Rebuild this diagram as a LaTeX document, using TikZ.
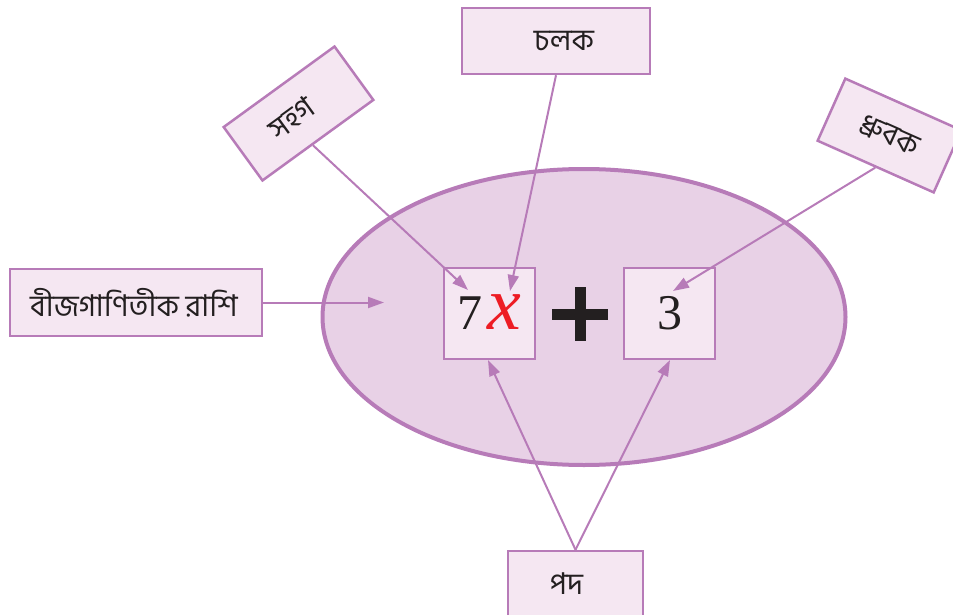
\documentclass[tikz,border=0pt]{standalone}
\usepackage{fontspec}
\setmainfont{Liberation Serif}
\newfontfamily\bn[Script=Bengali]{Hind Siliguri}
\usetikzlibrary{arrows.meta,shapes.geometric,calc}
\definecolor{bord}{HTML}{B77BB8}
\definecolor{efill}{HTML}{E8D1E6}
\definecolor{bfill}{HTML}{F5E7F2}
\definecolor{xred}{HTML}{ED1C24}
\definecolor{ink}{HTML}{231F20}
\tikzset{
 box/.style={draw=bord, fill=bfill, line width=2.5pt, inner sep=0pt, text=ink,
   font=\bn\fontsize{30}{32}\selectfont},
 term/.style={box, minimum width=91pt, minimum height=91pt, font=\fontsize{50}{52}\selectfont},
 conn/.style={draw=bord, line width=2pt, -{Triangle[length=16pt,width=11pt]}},
 plus/.style={draw=ink, line width=11pt},
}
\begin{document}
\begin{tikzpicture}[x=1pt,y=-1pt]
\useasboundingbox (0,0) rectangle (953,615);
\clip (0,0) rectangle (953,615);
\node[draw=bord, fill=efill, line width=4pt, ellipse, inner sep=0pt,
      minimum width=523pt, minimum height=296pt] (E) at (584,317) {};
\node[term] (A) at (489.5,313.5) {\raisebox{3pt}{7\hspace{5pt}{\color{xred}\fontsize{76}{76}\selectfont\itshape x}}};
\node[term] (B) at (669.5,313.5) {\raisebox{2pt}{3}};
\draw[plus] (552,314) -- (608,314);
\draw[plus] (580,287) -- (580,341);
\node[box, minimum width=252pt, minimum height=67pt] (L) at (136,302.5) {\hspace*{-4pt}বীজগাণিতীক রাশি};
\node[box, minimum width=188pt, minimum height=66pt] (C) at (556,41) {\hspace*{16pt}চলক};
\node[box, minimum width=135pt, minimum height=66pt] (P) at (575.5,584) {পদ\hspace*{18pt}};
\node[box, minimum width=137pt, minimum height=66pt, rotate=36] (S) at (298.5,113.5) {\raisebox{-5pt}{সহগ}\hspace*{16pt}};
\node[box, minimum width=127pt, minimum height=68pt, rotate=-24] (D) at (889.5,135.5) {ধ্রুবক};
\coordinate (t0) at (384,302.5);
\coordinate (t1) at (468,290);
\coordinate (t2) at (510,291);
\coordinate (t3) at (673,291);
\coordinate (t4) at (488,360);
\coordinate (t5) at (670,360);
\draw[conn] (L.east) -- (t0);
\draw[conn] ($(S.south)!0.1!(S.south west)$) -- (t1);
\draw[conn] (C.south) -- (t2);
\draw[conn] (D.south) -- (t3);
\draw[conn] (P.north) -- (t4);
\draw[conn] (P.north) -- (t5);
\end{tikzpicture}
\end{document}
